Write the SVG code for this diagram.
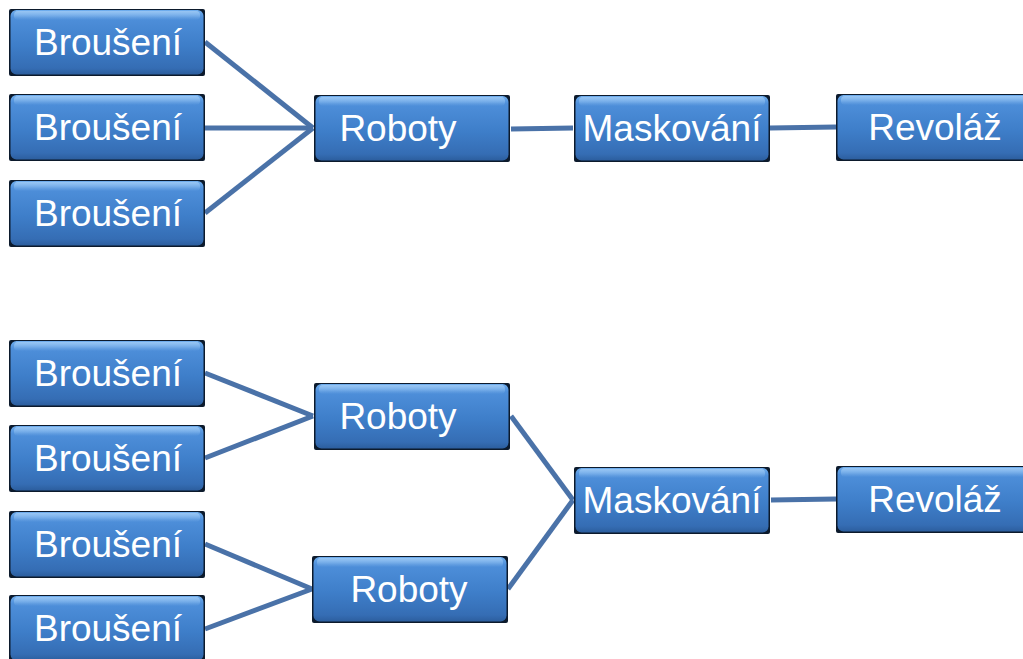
<svg xmlns="http://www.w3.org/2000/svg" width="1023" height="659" viewBox="0 0 1023 659">
  <defs>
    <linearGradient id="fill" x1="0" y1="0" x2="0" y2="1">
      <stop offset="0" stop-color="#70aeee"/>
      <stop offset="0.12" stop-color="#4e8fda"/>
      <stop offset="0.55" stop-color="#3e7ec9"/>
      <stop offset="0.9" stop-color="#356db4"/>
      <stop offset="1" stop-color="#2c5e9e"/>
    </linearGradient>
    <linearGradient id="sheen" x1="0" y1="0" x2="0" y2="1">
      <stop offset="0" stop-color="#9cc8f4" stop-opacity="0.9"/>
      <stop offset="1" stop-color="#9cc8f4" stop-opacity="0"/>
    </linearGradient>
    <style>
      .edge { fill: #0c1a2c; }
      .face { fill: url(#fill); }
      .hi { fill: url(#sheen); }
      .lbl { fill: #ffffff; font-family: "Liberation Sans", Arial, sans-serif; font-size: 37px; text-anchor: middle; }
      .wire { stroke: #4a72a8; stroke-width: 5; fill: none; stroke-linecap: butt; }
    </style>
    <!-- one process box, 196 x 67, origin at its top left corner -->
    <g id="box">
      <rect class="edge" x="0" y="0" width="196" height="67" rx="2"/>
      <rect class="face" x="1.5" y="1" width="193" height="64.5" rx="6"/>
      <rect class="hi" x="5" y="2" width="186" height="9" rx="4"/>
    </g>
  </defs>

  <g id="connectors">
    <line class="wire" x1="205" y1="42" x2="313" y2="128"/>
    <line class="wire" x1="205" y1="128" x2="313" y2="128"/>
    <line class="wire" x1="205" y1="213" x2="313" y2="128"/>
    <line class="wire" x1="511" y1="129" x2="573" y2="128"/>
    <line class="wire" x1="770" y1="128" x2="836" y2="127"/>

    <line class="wire" x1="205" y1="373" x2="313" y2="416"/>
    <line class="wire" x1="205" y1="458" x2="313" y2="416"/>
    <line class="wire" x1="205" y1="544" x2="312" y2="589"/>
    <line class="wire" x1="205" y1="629" x2="312" y2="589"/>
    <line class="wire" x1="511" y1="416" x2="573" y2="500"/>
    <line class="wire" x1="508" y1="589" x2="573" y2="500"/>
    <line class="wire" x1="771" y1="500" x2="836" y2="499"/>
  </g>

  <!-- upper line -->
  <g id="brouseni-a1"><use href="#box" x="9" y="9"/><text class="lbl" x="108" y="55">Broušení</text></g>
  <g id="brouseni-a2"><use href="#box" x="9" y="94"/><text class="lbl" x="108" y="140">Broušení</text></g>
  <g id="brouseni-a3"><use href="#box" x="9" y="180"/><text class="lbl" x="108" y="226">Broušení</text></g>
  <g id="roboty-a"><use href="#box" x="314" y="95"/><text class="lbl" x="398" y="141">Roboty</text></g>
  <g id="maskovani-a"><use href="#box" x="574" y="95"/><text class="lbl" x="672" y="141">Maskování</text></g>
  <g id="revolaz-a"><use href="#box" x="836" y="94"/><text class="lbl" x="935" y="140">Revoláž</text></g>

  <!-- lower line -->
  <g id="brouseni-b1"><use href="#box" x="9" y="340"/><text class="lbl" x="108" y="386">Broušení</text></g>
  <g id="brouseni-b2"><use href="#box" x="9" y="425"/><text class="lbl" x="108" y="471">Broušení</text></g>
  <g id="brouseni-b3"><use href="#box" x="9" y="511"/><text class="lbl" x="108" y="557">Broušení</text></g>
  <g id="brouseni-b4"><use href="#box" x="9" y="595"/><text class="lbl" x="108" y="641">Broušení</text></g>
  <g id="roboty-b1"><use href="#box" x="314" y="383"/><text class="lbl" x="398" y="429">Roboty</text></g>
  <g id="roboty-b2"><use href="#box" x="312" y="556"/><text class="lbl" x="409" y="602">Roboty</text></g>
  <g id="maskovani-b"><use href="#box" x="574" y="467"/><text class="lbl" x="672" y="513">Maskování</text></g>
  <g id="revolaz-b"><use href="#box" x="836" y="466"/><text class="lbl" x="935" y="512">Revoláž</text></g>
</svg>
